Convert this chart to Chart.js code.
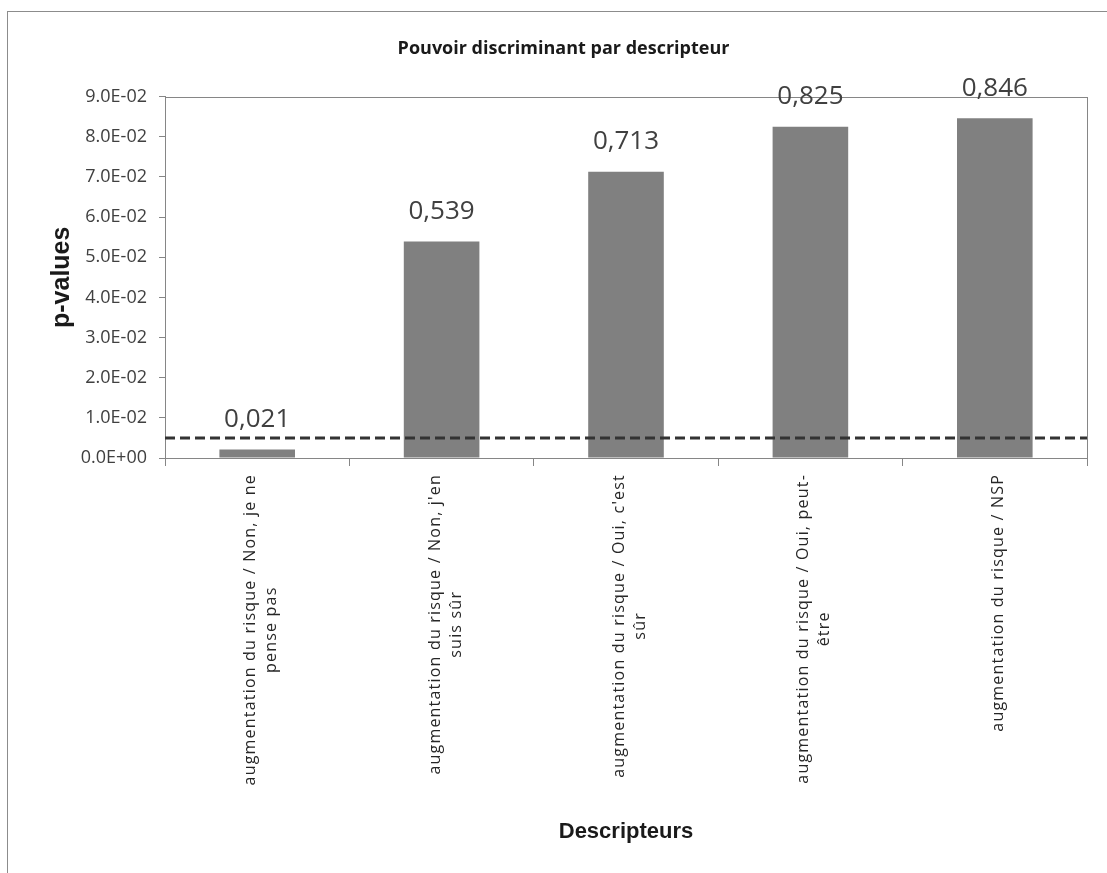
<!DOCTYPE html>
<html>
<head>
<meta charset="utf-8">
<script src="https://cdn.jsdelivr.net/npm/chart.js@4/dist/chart.umd.min.js"></script>
<style>
  html, body { margin: 0; padding: 0; background: #ffffff; }
  #wrap { width: 1107px; height: 873px; }
</style>
</head>
<body>
<div id="wrap"><canvas id="c" width="1107" height="873"></canvas></div>
<script>
const chartTitle = "Pouvoir discriminant par descripteur";
const xAxisTitle = "Descripteurs";
const yAxisTitle = "p-values";
const categories = [
  ["augmentation du risque / Non, je ne", "pense pas"],
  ["augmentation du risque / Non, j'en", "suis sûr"],
  ["augmentation du risque / Oui, c'est", "sûr"],
  ["augmentation du risque / Oui, peut-", "être"],
  ["augmentation du risque / NSP"]
];
const pValues = [0.0021, 0.0539, 0.0713, 0.0825, 0.0846];
const valueLabels = ["0,021", "0,539", "0,713", "0,825", "0,846"];
const yTickLabels = ["0.0E+00", "1.0E-02", "2.0E-02", "3.0E-02", "4.0E-02",
                     "5.0E-02", "6.0E-02", "7.0E-02", "8.0E-02", "9.0E-02"];
const thresholdValue = 0.005;

const GRAY_AXIS = '#868686';

const decorPlugin = {
  id: 'decor',
  beforeDraw(chart) {
    const ctx = chart.ctx;
    ctx.save();
    ctx.fillStyle = '#ffffff';
    ctx.fillRect(0, 0, chart.width, chart.height);
    ctx.strokeStyle = '#8c8c8c';
    ctx.lineWidth = 1;
    ctx.strokeRect(7.5, 11.5, chart.width + 10, chart.height + 10);
    ctx.restore();
  },
  beforeDatasetsDraw(chart) {
    const ctx = chart.ctx;
    const a = chart.chartArea;
    ctx.save();
    ctx.strokeStyle = GRAY_AXIS;
    ctx.lineWidth = 1;
    ctx.strokeRect(Math.round(a.left) + 0.5, Math.round(a.top) + 0.5,
                   Math.round(a.right - a.left), Math.round(a.bottom - a.top));
    ctx.restore();
  },
  afterDatasetsDraw(chart) {
    const ctx = chart.ctx;
    const a = chart.chartArea;
    const yScale = chart.scales.y;
    const xScale = chart.scales.x;
    // threshold dashed line
    const ty = yScale.getPixelForValue(thresholdValue);
    ctx.save();
    ctx.strokeStyle = '#333333';
    ctx.lineWidth = 3;
    ctx.setLineDash([10, 5]);
    ctx.beginPath();
    ctx.moveTo(a.left, ty);
    ctx.lineTo(a.right, ty);
    ctx.stroke();
    ctx.restore();

    // value labels
    const meta = chart.getDatasetMeta(0);
    ctx.save();
    ctx.font = '26px "Open Sans"';
    ctx.fillStyle = '#404040';
    ctx.textAlign = 'center';
    ctx.textBaseline = 'middle';
    meta.data.forEach((bar, i) => {
      ctx.fillText(valueLabels[i], bar.x, bar.y - 30);
    });
    ctx.restore();

    // rotated category labels
    ctx.save();
    ctx.font = '16px "Open Sans"';
    ctx.letterSpacing = '1.2px';
    ctx.fillStyle = '#262626';
    ctx.textAlign = 'center';
    ctx.textBaseline = 'middle';
    const lh = 21;
    const topY = a.bottom + 16;
    categories.forEach((lines, i) => {
      const cx = xScale.getPixelForValue(i) + 4;
      let w = 0;
      lines.forEach(l => { w = Math.max(w, ctx.measureText(l).width); });
      const cy = topY + w / 2;
      ctx.save();
      ctx.translate(cx, cy);
      ctx.rotate(-Math.PI / 2);
      lines.forEach((l, j) => {
        ctx.fillText(l, 0, (j - (lines.length - 1) / 2) * lh);
      });
      ctx.restore();
    });
    ctx.restore();
  }
};

new Chart(document.getElementById('c'), {
  type: 'bar',
  data: {
    labels: categories,
    datasets: [{
      data: pValues,
      backgroundColor: '#808080',
      borderWidth: 0,
      barPercentage: 0.41,
      categoryPercentage: 1.0
    }]
  },
  plugins: [decorPlugin],
  options: {
    responsive: false,
    devicePixelRatio: 1,
    animation: false,
    layout: { padding: { left: 40, right: 20, top: 0, bottom: 0 } },
    plugins: {
      legend: { display: false },
      tooltip: { enabled: false },
      title: {
        display: true,
        text: chartTitle,
        color: '#1a1a1a',
        font: { family: '"Open Sans"', size: 18, weight: 'bold' },
        padding: { top: 38, bottom: 37 }
      }
    },
    scales: {
      x: {
        afterFit(scale) { scale.height = 415; },
        ticks: { display: false },
        grid: { drawOnChartArea: false, tickLength: 8, color: GRAY_AXIS, offset: true },
        border: { color: GRAY_AXIS, width: 1 },
        title: {
          display: true,
          text: xAxisTitle,
          color: '#1a1a1a',
          font: { family: '"Liberation Sans"', size: 22, weight: 'bold' },
          padding: { top: 0, bottom: 28 }
        }
      },
      y: {
        min: 0,
        max: 0.09,
        afterFit(scale) { scale.width = 125; },
        ticks: {
          stepSize: 0.01,
          padding: 12,
          color: '#404040',
          font: { family: '"Open Sans"', size: 18 },
          callback: (v, i) => yTickLabels[i]
        },
        grid: { drawOnChartArea: false, tickLength: 6, color: GRAY_AXIS },
        border: { color: GRAY_AXIS, width: 1 },
        title: {
          display: true,
          text: yAxisTitle,
          color: '#1a1a1a',
          font: { family: '"Liberation Sans"', size: 25, weight: 'bold' },
          padding: { top: 7, bottom: 0 }
        }
      }
    }
  }
});
</script>
</body>
</html>
